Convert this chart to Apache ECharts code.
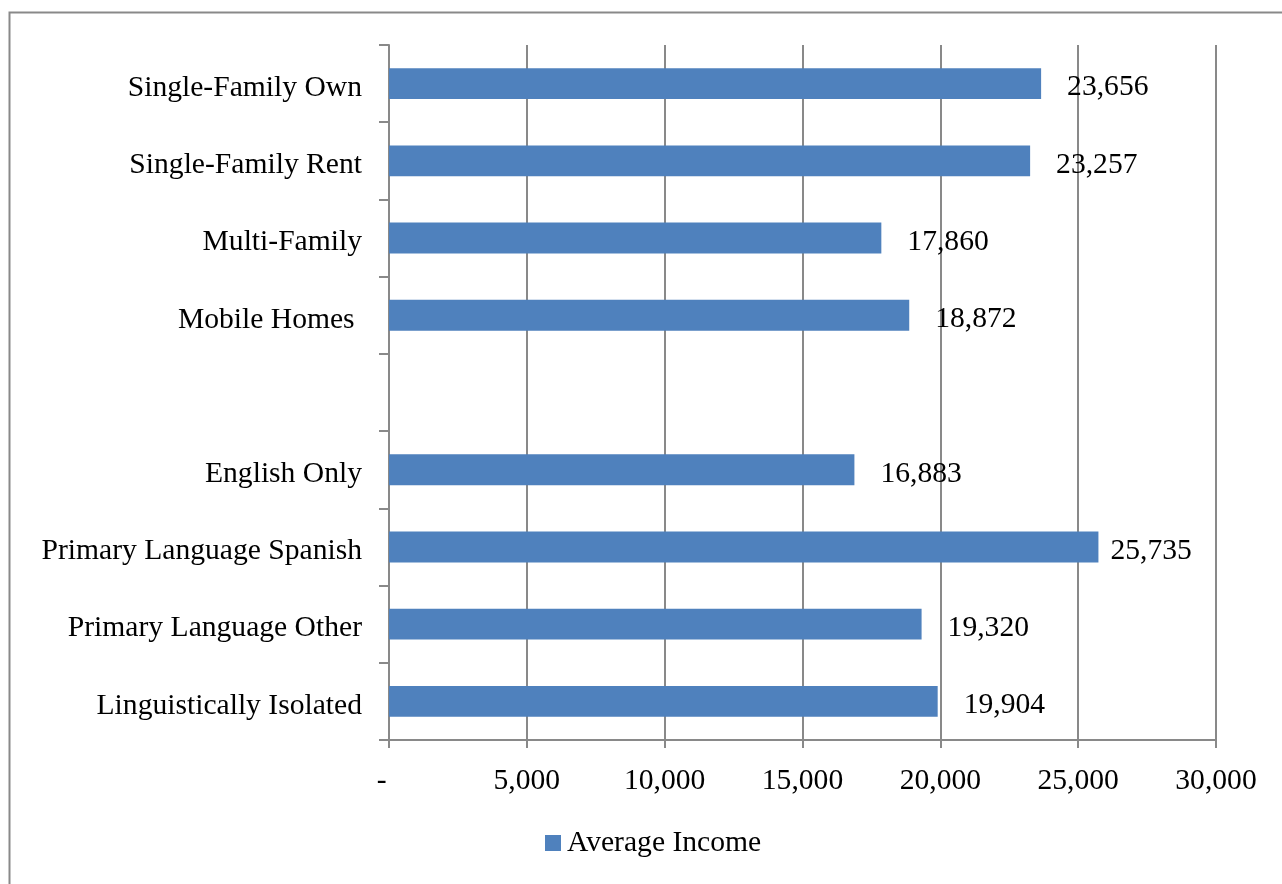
<!DOCTYPE html>
<html>
<head>
<meta charset="utf-8">
<script src="https://cdn.jsdelivr.net/npm/echarts@6/dist/echarts.min.js"></script>
<style>
  html, body { margin: 0; padding: 0; background: #fff; }
  #chart { width: 1282px; height: 884px; }
</style>
</head>
<body>
<div id="chart"></div>
<script>
// Housing type and language groups; the empty entry leaves a gap between the two groups
const categories = [
  'Single-Family Own',
  'Single-Family Rent',
  'Multi-Family',
  'Mobile Homes ',
  '',
  'English Only',
  'Primary Language Spanish',
  'Primary Language Other',
  'Linguistically Isolated'
];
const averageIncome = [23656, 23257, 17860, 18872, null, 16883, 25735, 19320, 19904];
const xTicks = { min: 0, max: 30000, step: 5000 };
const seriesName = 'Average Income';

const FONT = '"Liberation Serif", "DejaVu Serif", serif';
const SIZE = 29.6;
const GRAY = '#898989';
const BLUE = '#4F81BD';
const fmt = v => v.toLocaleString('en-US');

const chart = echarts.init(document.getElementById('chart'));

chart.setOption({
  animation: false,
  textStyle: { fontFamily: FONT },
  graphic: [{
    type: 'rect',
    left: 7, top: 10,
    shape: { x: 0, y: 0, width: 1320, height: 920 },
    style: { fill: 'none', stroke: GRAY, lineWidth: 2 },
    silent: true,
    z: -1
  }],
  grid: { left: 389, right: 66, top: 45, bottom: 144, containLabel: false },
  legend: {
    left: 545, top: 828, padding: 0,
    itemWidth: 16, itemHeight: 16, itemGap: 5,
    icon: 'rect',
    textStyle: {
      fontFamily: FONT, fontSize: SIZE, color: '#000',
      lineHeight: 30, padding: [0, 0, 0, 1]
    },
    data: [seriesName]
  },
  xAxis: {
    type: 'value',
    min: xTicks.min, max: xTicks.max, interval: xTicks.step,
    axisLine: { show: true, lineStyle: { color: GRAY, width: 2 } },
    axisTick: { show: true, length: 8, lineStyle: { color: GRAY, width: 2 } },
    splitLine: { show: true, lineStyle: { color: GRAY, width: 2 } },
    axisLabel: {
      margin: 26,
      fontFamily: FONT, fontSize: SIZE, color: '#000',
      formatter: v => v === 0 ? '-  ' : fmt(v)
    }
  },
  yAxis: {
    type: 'category',
    inverse: true,
    data: categories,
    axisLine: { show: true, lineStyle: { color: GRAY, width: 2 } },
    axisTick: { show: true, length: 10, lineStyle: { color: GRAY, width: 2 } },
    axisLabel: {
      margin: 27, fontFamily: FONT, fontSize: SIZE, color: '#000',
      verticalAlign: 'top', lineHeight: 9
    }
  },
  series: [{
    name: seriesName,
    type: 'bar',
    barWidth: '40%',
    itemStyle: { color: BLUE },
    label: {
      show: true,
      position: 'right',
      distance: 26,
      offset: [0, 4],
      fontFamily: FONT, fontSize: SIZE, color: '#000',
      formatter: p => fmt(p.value)
    },
    data: averageIncome.map((v, i) =>
      i === 6 ? { value: v, label: { distance: 12 } } : v
    )
  }]
});
</script>
</body>
</html>
